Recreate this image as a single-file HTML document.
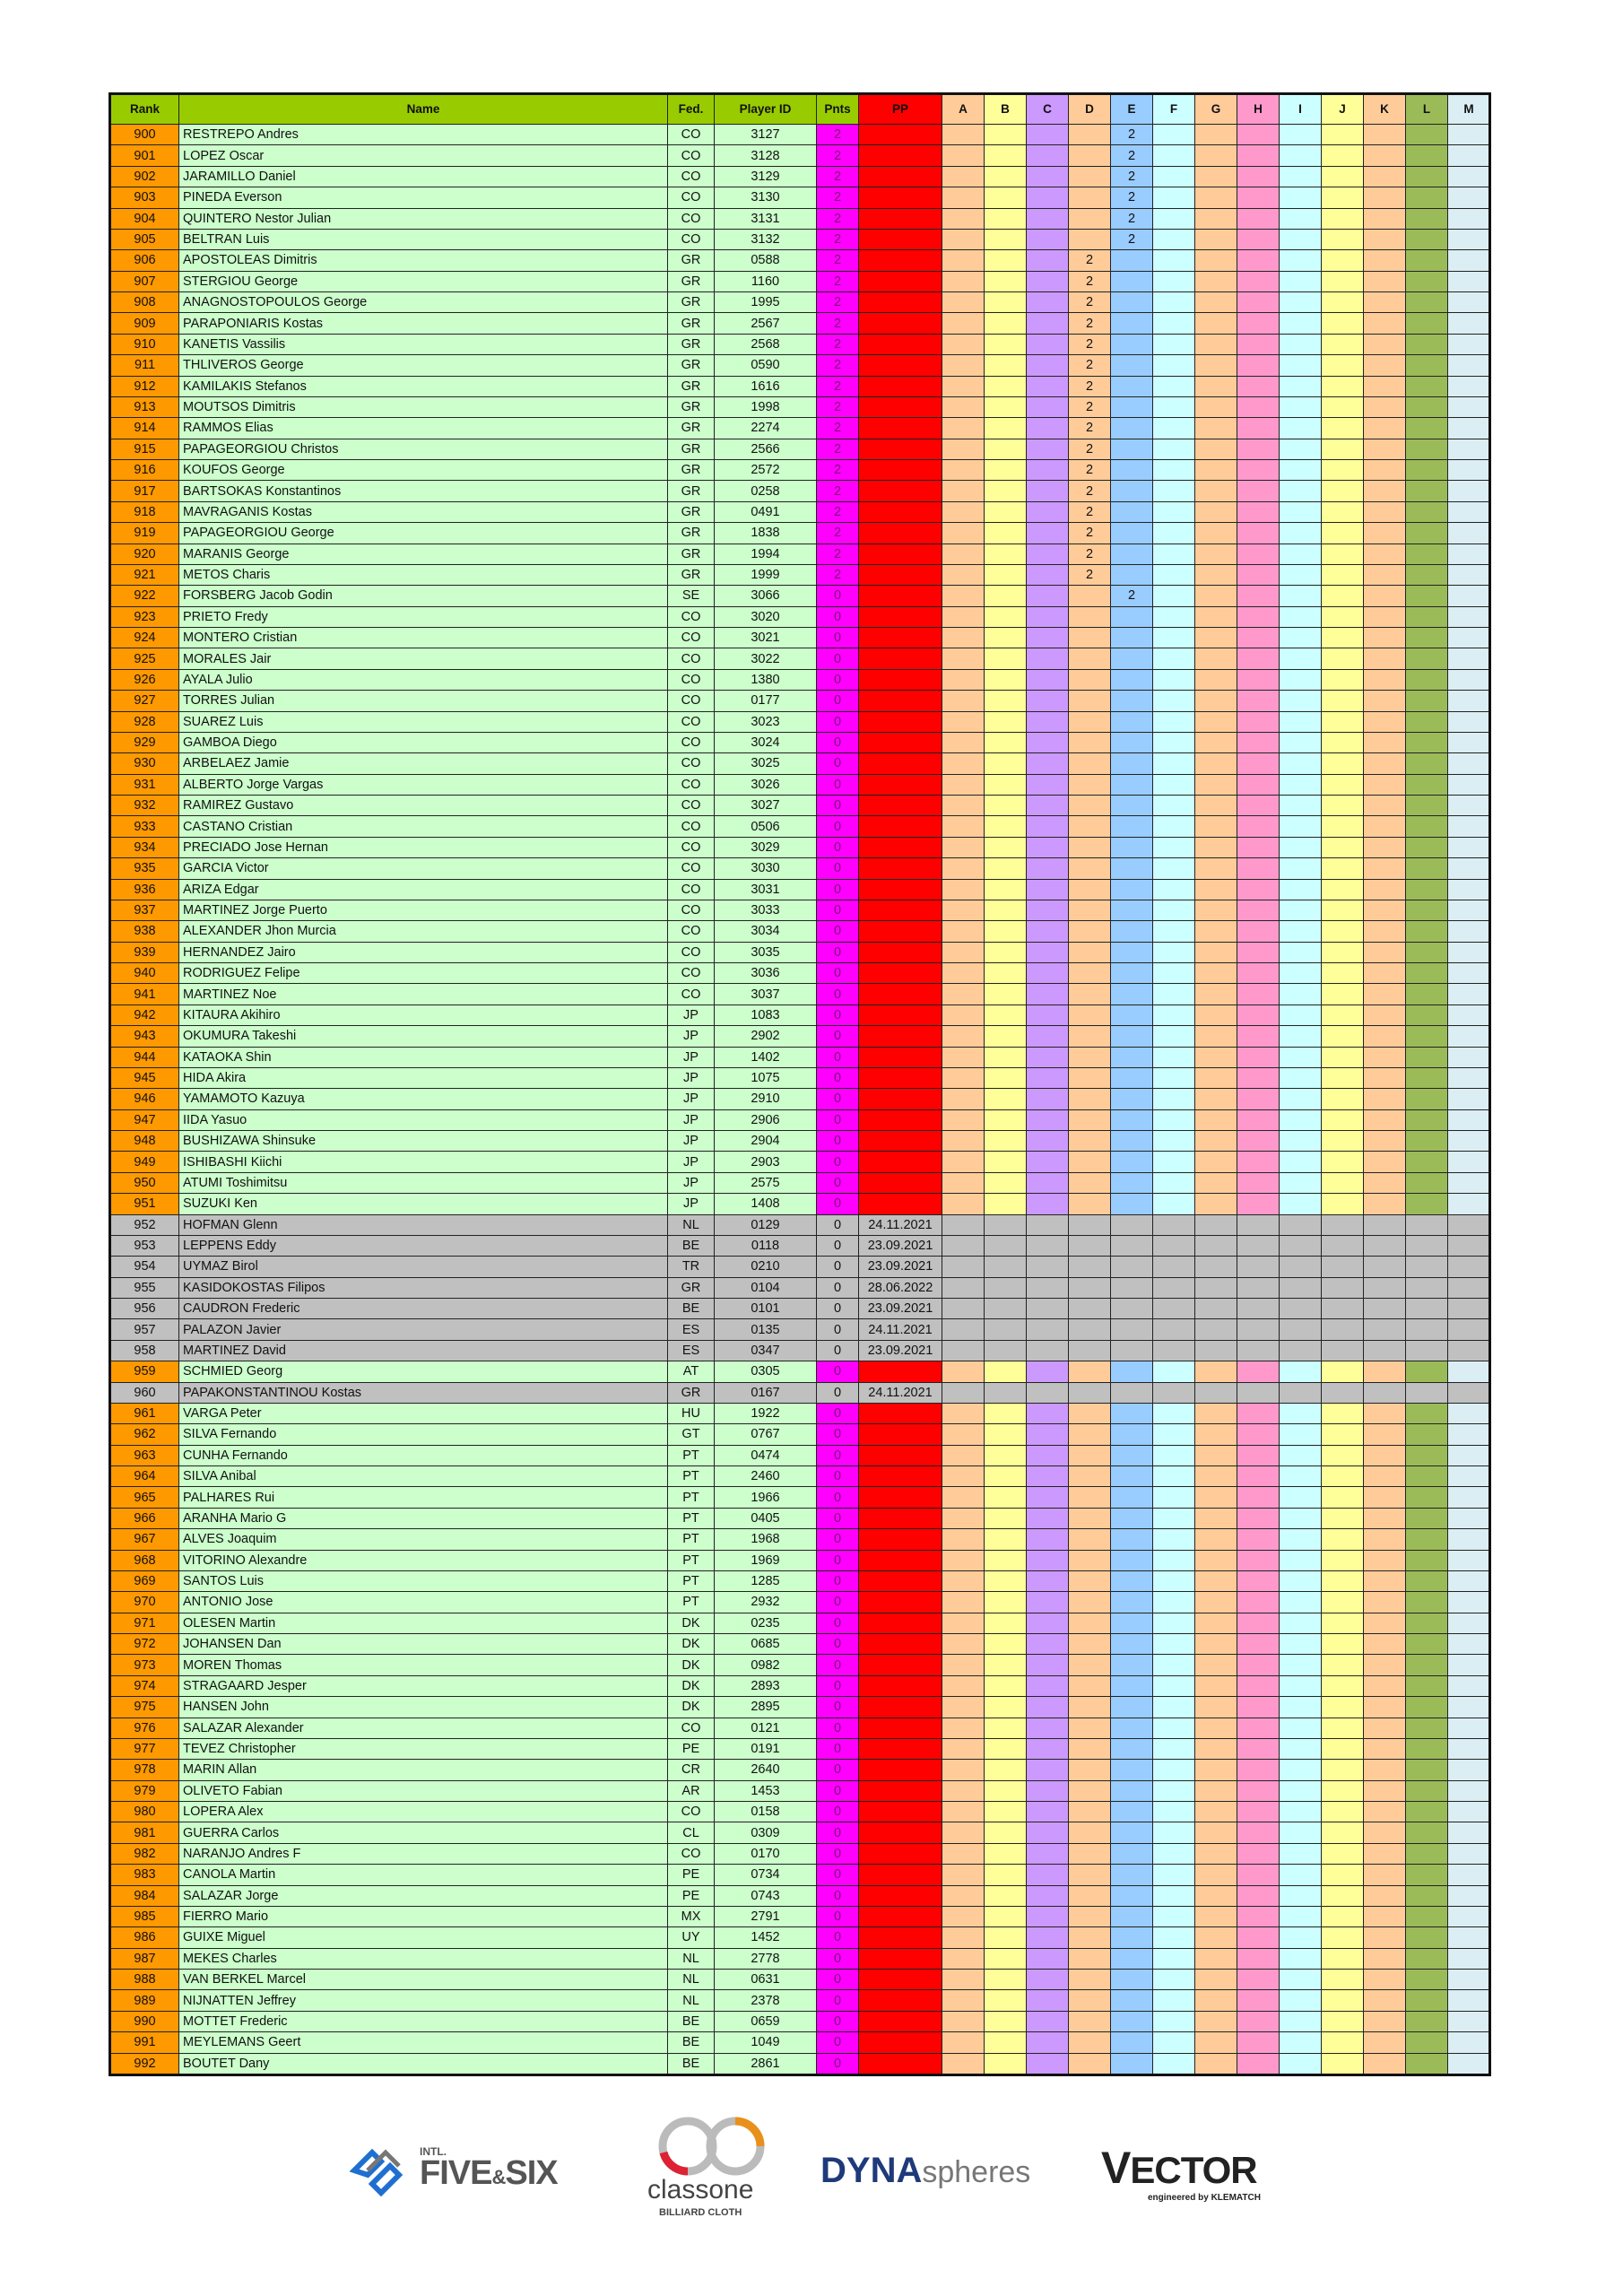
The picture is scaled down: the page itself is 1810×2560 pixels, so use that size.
<!DOCTYPE html>
<html><head><meta charset="utf-8"><style>
body{margin:0;width:1810px;height:2560px;background:#fff;position:relative;font-family:"Liberation Sans",Arial,sans-serif}
table{position:absolute;left:121px;top:103px;width:1539px;border-collapse:collapse;table-layout:fixed;border:3px solid #111}
td,th{border:1.5px solid #222;padding:0;height:22.38px;font-size:14.5px;text-align:center;color:#111;white-space:nowrap;overflow:hidden;line-height:20px}
th{height:32px;font-size:13.5px;font-weight:bold}
th:nth-child(-n+5){background:#99cc00}
td:nth-child(1){background:#ff9900}
td:nth-child(2){background:#ccffcc;text-align:left;padding-left:4px}
td:nth-child(3),td:nth-child(4){background:#ccffcc}
td:nth-child(5){background:#ff00ff;color:#7a0f7a}
td:nth-child(6),th:nth-child(6){background:#ff0000}
td:nth-child(7),th:nth-child(7),td:nth-child(10),th:nth-child(10),td:nth-child(13),th:nth-child(13),td:nth-child(17),th:nth-child(17){background:#ffcc99}
td:nth-child(8),th:nth-child(8),td:nth-child(16),th:nth-child(16){background:#ffff99}
td:nth-child(9),th:nth-child(9){background:#cc99ff}
td:nth-child(11),th:nth-child(11){background:#99ccff}
td:nth-child(12),th:nth-child(12),td:nth-child(15),th:nth-child(15){background:#ccffff}
td:nth-child(14),th:nth-child(14){background:#ff99cc}
td:nth-child(18),th:nth-child(18){background:#9bbb59}
td:nth-child(19),th:nth-child(19){background:#dbeef3}
tr.g td{background:#c0c0c0!important;color:#111!important}
.logo{position:absolute;font-weight:bold}
</style></head><body>
<table>
<colgroup><col style="width:77px"><col style="width:545px"><col style="width:52px"><col style="width:114px"><col style="width:47px"><col style="width:93px"><col span="13" style="width:47px"></colgroup>
<tr><th>Rank</th><th>Name</th><th>Fed.</th><th>Player ID</th><th>Pnts</th><th>PP</th><th>A</th><th>B</th><th>C</th><th>D</th><th>E</th><th>F</th><th>G</th><th>H</th><th>I</th><th>J</th><th>K</th><th>L</th><th>M</th></tr>
<tr><td>900<td>RESTREPO Andres<td>CO<td>3127<td>2<td><td><td><td><td><td>2<td><td><td><td><td><td><td><td><td></tr>
<tr><td>901<td>LOPEZ Oscar<td>CO<td>3128<td>2<td><td><td><td><td><td>2<td><td><td><td><td><td><td><td><td></tr>
<tr><td>902<td>JARAMILLO Daniel<td>CO<td>3129<td>2<td><td><td><td><td><td>2<td><td><td><td><td><td><td><td><td></tr>
<tr><td>903<td>PINEDA Everson<td>CO<td>3130<td>2<td><td><td><td><td><td>2<td><td><td><td><td><td><td><td><td></tr>
<tr><td>904<td>QUINTERO Nestor Julian<td>CO<td>3131<td>2<td><td><td><td><td><td>2<td><td><td><td><td><td><td><td><td></tr>
<tr><td>905<td>BELTRAN Luis<td>CO<td>3132<td>2<td><td><td><td><td><td>2<td><td><td><td><td><td><td><td><td></tr>
<tr><td>906<td>APOSTOLEAS Dimitris<td>GR<td>0588<td>2<td><td><td><td><td>2<td><td><td><td><td><td><td><td><td><td></tr>
<tr><td>907<td>STERGIOU George<td>GR<td>1160<td>2<td><td><td><td><td>2<td><td><td><td><td><td><td><td><td><td></tr>
<tr><td>908<td>ANAGNOSTOPOULOS George<td>GR<td>1995<td>2<td><td><td><td><td>2<td><td><td><td><td><td><td><td><td><td></tr>
<tr><td>909<td>PARAPONIARIS Kostas<td>GR<td>2567<td>2<td><td><td><td><td>2<td><td><td><td><td><td><td><td><td><td></tr>
<tr><td>910<td>KANETIS Vassilis<td>GR<td>2568<td>2<td><td><td><td><td>2<td><td><td><td><td><td><td><td><td><td></tr>
<tr><td>911<td>THLIVEROS George<td>GR<td>0590<td>2<td><td><td><td><td>2<td><td><td><td><td><td><td><td><td><td></tr>
<tr><td>912<td>KAMILAKIS Stefanos<td>GR<td>1616<td>2<td><td><td><td><td>2<td><td><td><td><td><td><td><td><td><td></tr>
<tr><td>913<td>MOUTSOS Dimitris<td>GR<td>1998<td>2<td><td><td><td><td>2<td><td><td><td><td><td><td><td><td><td></tr>
<tr><td>914<td>RAMMOS Elias<td>GR<td>2274<td>2<td><td><td><td><td>2<td><td><td><td><td><td><td><td><td><td></tr>
<tr><td>915<td>PAPAGEORGIOU Christos<td>GR<td>2566<td>2<td><td><td><td><td>2<td><td><td><td><td><td><td><td><td><td></tr>
<tr><td>916<td>KOUFOS George<td>GR<td>2572<td>2<td><td><td><td><td>2<td><td><td><td><td><td><td><td><td><td></tr>
<tr><td>917<td>BARTSOKAS Konstantinos<td>GR<td>0258<td>2<td><td><td><td><td>2<td><td><td><td><td><td><td><td><td><td></tr>
<tr><td>918<td>MAVRAGANIS Kostas<td>GR<td>0491<td>2<td><td><td><td><td>2<td><td><td><td><td><td><td><td><td><td></tr>
<tr><td>919<td>PAPAGEORGIOU George<td>GR<td>1838<td>2<td><td><td><td><td>2<td><td><td><td><td><td><td><td><td><td></tr>
<tr><td>920<td>MARANIS George<td>GR<td>1994<td>2<td><td><td><td><td>2<td><td><td><td><td><td><td><td><td><td></tr>
<tr><td>921<td>METOS Charis<td>GR<td>1999<td>2<td><td><td><td><td>2<td><td><td><td><td><td><td><td><td><td></tr>
<tr><td>922<td>FORSBERG Jacob Godin<td>SE<td>3066<td>0<td><td><td><td><td><td>2<td><td><td><td><td><td><td><td><td></tr>
<tr><td>923<td>PRIETO Fredy<td>CO<td>3020<td>0<td><td><td><td><td><td><td><td><td><td><td><td><td><td><td></tr>
<tr><td>924<td>MONTERO Cristian<td>CO<td>3021<td>0<td><td><td><td><td><td><td><td><td><td><td><td><td><td><td></tr>
<tr><td>925<td>MORALES Jair<td>CO<td>3022<td>0<td><td><td><td><td><td><td><td><td><td><td><td><td><td><td></tr>
<tr><td>926<td>AYALA Julio<td>CO<td>1380<td>0<td><td><td><td><td><td><td><td><td><td><td><td><td><td><td></tr>
<tr><td>927<td>TORRES Julian<td>CO<td>0177<td>0<td><td><td><td><td><td><td><td><td><td><td><td><td><td><td></tr>
<tr><td>928<td>SUAREZ Luis<td>CO<td>3023<td>0<td><td><td><td><td><td><td><td><td><td><td><td><td><td><td></tr>
<tr><td>929<td>GAMBOA Diego<td>CO<td>3024<td>0<td><td><td><td><td><td><td><td><td><td><td><td><td><td><td></tr>
<tr><td>930<td>ARBELAEZ Jamie<td>CO<td>3025<td>0<td><td><td><td><td><td><td><td><td><td><td><td><td><td><td></tr>
<tr><td>931<td>ALBERTO Jorge Vargas<td>CO<td>3026<td>0<td><td><td><td><td><td><td><td><td><td><td><td><td><td><td></tr>
<tr><td>932<td>RAMIREZ Gustavo<td>CO<td>3027<td>0<td><td><td><td><td><td><td><td><td><td><td><td><td><td><td></tr>
<tr><td>933<td>CASTANO Cristian<td>CO<td>0506<td>0<td><td><td><td><td><td><td><td><td><td><td><td><td><td><td></tr>
<tr><td>934<td>PRECIADO Jose Hernan<td>CO<td>3029<td>0<td><td><td><td><td><td><td><td><td><td><td><td><td><td><td></tr>
<tr><td>935<td>GARCIA Victor<td>CO<td>3030<td>0<td><td><td><td><td><td><td><td><td><td><td><td><td><td><td></tr>
<tr><td>936<td>ARIZA Edgar<td>CO<td>3031<td>0<td><td><td><td><td><td><td><td><td><td><td><td><td><td><td></tr>
<tr><td>937<td>MARTINEZ Jorge Puerto<td>CO<td>3033<td>0<td><td><td><td><td><td><td><td><td><td><td><td><td><td><td></tr>
<tr><td>938<td>ALEXANDER Jhon Murcia<td>CO<td>3034<td>0<td><td><td><td><td><td><td><td><td><td><td><td><td><td><td></tr>
<tr><td>939<td>HERNANDEZ Jairo<td>CO<td>3035<td>0<td><td><td><td><td><td><td><td><td><td><td><td><td><td><td></tr>
<tr><td>940<td>RODRIGUEZ Felipe<td>CO<td>3036<td>0<td><td><td><td><td><td><td><td><td><td><td><td><td><td><td></tr>
<tr><td>941<td>MARTINEZ Noe<td>CO<td>3037<td>0<td><td><td><td><td><td><td><td><td><td><td><td><td><td><td></tr>
<tr><td>942<td>KITAURA Akihiro<td>JP<td>1083<td>0<td><td><td><td><td><td><td><td><td><td><td><td><td><td><td></tr>
<tr><td>943<td>OKUMURA Takeshi<td>JP<td>2902<td>0<td><td><td><td><td><td><td><td><td><td><td><td><td><td><td></tr>
<tr><td>944<td>KATAOKA Shin<td>JP<td>1402<td>0<td><td><td><td><td><td><td><td><td><td><td><td><td><td><td></tr>
<tr><td>945<td>HIDA Akira<td>JP<td>1075<td>0<td><td><td><td><td><td><td><td><td><td><td><td><td><td><td></tr>
<tr><td>946<td>YAMAMOTO Kazuya<td>JP<td>2910<td>0<td><td><td><td><td><td><td><td><td><td><td><td><td><td><td></tr>
<tr><td>947<td>IIDA Yasuo<td>JP<td>2906<td>0<td><td><td><td><td><td><td><td><td><td><td><td><td><td><td></tr>
<tr><td>948<td>BUSHIZAWA Shinsuke<td>JP<td>2904<td>0<td><td><td><td><td><td><td><td><td><td><td><td><td><td><td></tr>
<tr><td>949<td>ISHIBASHI Kiichi<td>JP<td>2903<td>0<td><td><td><td><td><td><td><td><td><td><td><td><td><td><td></tr>
<tr><td>950<td>ATUMI Toshimitsu<td>JP<td>2575<td>0<td><td><td><td><td><td><td><td><td><td><td><td><td><td><td></tr>
<tr><td>951<td>SUZUKI Ken<td>JP<td>1408<td>0<td><td><td><td><td><td><td><td><td><td><td><td><td><td><td></tr>
<tr class="g"><td>952<td>HOFMAN Glenn<td>NL<td>0129<td>0<td>24.11.2021<td><td><td><td><td><td><td><td><td><td><td><td><td><td></tr>
<tr class="g"><td>953<td>LEPPENS Eddy<td>BE<td>0118<td>0<td>23.09.2021<td><td><td><td><td><td><td><td><td><td><td><td><td><td></tr>
<tr class="g"><td>954<td>UYMAZ Birol<td>TR<td>0210<td>0<td>23.09.2021<td><td><td><td><td><td><td><td><td><td><td><td><td><td></tr>
<tr class="g"><td>955<td>KASIDOKOSTAS Filipos<td>GR<td>0104<td>0<td>28.06.2022<td><td><td><td><td><td><td><td><td><td><td><td><td><td></tr>
<tr class="g"><td>956<td>CAUDRON Frederic<td>BE<td>0101<td>0<td>23.09.2021<td><td><td><td><td><td><td><td><td><td><td><td><td><td></tr>
<tr class="g"><td>957<td>PALAZON Javier<td>ES<td>0135<td>0<td>24.11.2021<td><td><td><td><td><td><td><td><td><td><td><td><td><td></tr>
<tr class="g"><td>958<td>MARTINEZ David<td>ES<td>0347<td>0<td>23.09.2021<td><td><td><td><td><td><td><td><td><td><td><td><td><td></tr>
<tr><td>959<td>SCHMIED Georg<td>AT<td>0305<td>0<td><td><td><td><td><td><td><td><td><td><td><td><td><td><td></tr>
<tr class="g"><td>960<td>PAPAKONSTANTINOU Kostas<td>GR<td>0167<td>0<td>24.11.2021<td><td><td><td><td><td><td><td><td><td><td><td><td><td></tr>
<tr><td>961<td>VARGA Peter<td>HU<td>1922<td>0<td><td><td><td><td><td><td><td><td><td><td><td><td><td><td></tr>
<tr><td>962<td>SILVA Fernando<td>GT<td>0767<td>0<td><td><td><td><td><td><td><td><td><td><td><td><td><td><td></tr>
<tr><td>963<td>CUNHA Fernando<td>PT<td>0474<td>0<td><td><td><td><td><td><td><td><td><td><td><td><td><td><td></tr>
<tr><td>964<td>SILVA Anibal<td>PT<td>2460<td>0<td><td><td><td><td><td><td><td><td><td><td><td><td><td><td></tr>
<tr><td>965<td>PALHARES Rui<td>PT<td>1966<td>0<td><td><td><td><td><td><td><td><td><td><td><td><td><td><td></tr>
<tr><td>966<td>ARANHA Mario G<td>PT<td>0405<td>0<td><td><td><td><td><td><td><td><td><td><td><td><td><td><td></tr>
<tr><td>967<td>ALVES Joaquim<td>PT<td>1968<td>0<td><td><td><td><td><td><td><td><td><td><td><td><td><td><td></tr>
<tr><td>968<td>VITORINO Alexandre<td>PT<td>1969<td>0<td><td><td><td><td><td><td><td><td><td><td><td><td><td><td></tr>
<tr><td>969<td>SANTOS Luis<td>PT<td>1285<td>0<td><td><td><td><td><td><td><td><td><td><td><td><td><td><td></tr>
<tr><td>970<td>ANTONIO Jose<td>PT<td>2932<td>0<td><td><td><td><td><td><td><td><td><td><td><td><td><td><td></tr>
<tr><td>971<td>OLESEN Martin<td>DK<td>0235<td>0<td><td><td><td><td><td><td><td><td><td><td><td><td><td><td></tr>
<tr><td>972<td>JOHANSEN Dan<td>DK<td>0685<td>0<td><td><td><td><td><td><td><td><td><td><td><td><td><td><td></tr>
<tr><td>973<td>MOREN Thomas<td>DK<td>0982<td>0<td><td><td><td><td><td><td><td><td><td><td><td><td><td><td></tr>
<tr><td>974<td>STRAGAARD Jesper<td>DK<td>2893<td>0<td><td><td><td><td><td><td><td><td><td><td><td><td><td><td></tr>
<tr><td>975<td>HANSEN John<td>DK<td>2895<td>0<td><td><td><td><td><td><td><td><td><td><td><td><td><td><td></tr>
<tr><td>976<td>SALAZAR Alexander<td>CO<td>0121<td>0<td><td><td><td><td><td><td><td><td><td><td><td><td><td><td></tr>
<tr><td>977<td>TEVEZ Christopher<td>PE<td>0191<td>0<td><td><td><td><td><td><td><td><td><td><td><td><td><td><td></tr>
<tr><td>978<td>MARIN Allan<td>CR<td>2640<td>0<td><td><td><td><td><td><td><td><td><td><td><td><td><td><td></tr>
<tr><td>979<td>OLIVETO Fabian<td>AR<td>1453<td>0<td><td><td><td><td><td><td><td><td><td><td><td><td><td><td></tr>
<tr><td>980<td>LOPERA Alex<td>CO<td>0158<td>0<td><td><td><td><td><td><td><td><td><td><td><td><td><td><td></tr>
<tr><td>981<td>GUERRA Carlos<td>CL<td>0309<td>0<td><td><td><td><td><td><td><td><td><td><td><td><td><td><td></tr>
<tr><td>982<td>NARANJO Andres F<td>CO<td>0170<td>0<td><td><td><td><td><td><td><td><td><td><td><td><td><td><td></tr>
<tr><td>983<td>CANOLA Martin<td>PE<td>0734<td>0<td><td><td><td><td><td><td><td><td><td><td><td><td><td><td></tr>
<tr><td>984<td>SALAZAR Jorge<td>PE<td>0743<td>0<td><td><td><td><td><td><td><td><td><td><td><td><td><td><td></tr>
<tr><td>985<td>FIERRO Mario<td>MX<td>2791<td>0<td><td><td><td><td><td><td><td><td><td><td><td><td><td><td></tr>
<tr><td>986<td>GUIXE Miguel<td>UY<td>1452<td>0<td><td><td><td><td><td><td><td><td><td><td><td><td><td><td></tr>
<tr><td>987<td>MEKES Charles<td>NL<td>2778<td>0<td><td><td><td><td><td><td><td><td><td><td><td><td><td><td></tr>
<tr><td>988<td>VAN BERKEL Marcel<td>NL<td>0631<td>0<td><td><td><td><td><td><td><td><td><td><td><td><td><td><td></tr>
<tr><td>989<td>NIJNATTEN Jeffrey<td>NL<td>2378<td>0<td><td><td><td><td><td><td><td><td><td><td><td><td><td><td></tr>
<tr><td>990<td>MOTTET Frederic<td>BE<td>0659<td>0<td><td><td><td><td><td><td><td><td><td><td><td><td><td><td></tr>
<tr><td>991<td>MEYLEMANS Geert<td>BE<td>1049<td>0<td><td><td><td><td><td><td><td><td><td><td><td><td><td><td></tr>
<tr><td>992<td>BOUTET Dany<td>BE<td>2861<td>0<td><td><td><td><td><td><td><td><td><td><td><td><td><td><td></tr>
</table>

<svg style="position:absolute;left:390px;top:2390px" width="70" height="60"><path d="M5 30 L25 10 L35 20 L20 35 Z M25 45 L45 25 L55 35 L35 55 Z" fill="none" stroke="#1e6fd0" stroke-width="6"/><path d="M20 30 L40 10 L55 25" fill="none" stroke="#777" stroke-width="5"/></svg>
<div class="logo" style="left:468px;top:2392px;font-size:12px;color:#555">INTL.</div>
<div class="logo" style="left:468px;top:2402px;font-size:38px;color:#555;letter-spacing:-1px">FIVE<span style="font-size:22px">&amp;</span>SIX</div>
<svg style="position:absolute;left:720px;top:2355px" width="150" height="75"><circle cx="47" cy="38" r="28" fill="none" stroke="#bbb" stroke-width="9"/><circle cx="100" cy="38" r="28" fill="none" stroke="#bbb" stroke-width="9"/><path d="M100 10 A28 28 0 0 1 128 38" fill="none" stroke="#e8901a" stroke-width="9"/><path d="M20 45 A28 28 0 0 0 47 66" fill="none" stroke="#d23" stroke-width="9"/></svg>
<div class="logo" style="left:722px;top:2425px;font-size:30px;color:#444;font-weight:normal">classone</div>
<div class="logo" style="left:735px;top:2461px;font-size:11px;color:#444">BILLIARD CLOTH</div>
<div class="logo" style="left:915px;top:2398px;font-size:40px;color:#1f3a7a">DYNA<span style="color:#777;font-weight:normal;font-size:34px">spheres</span></div>
<div class="logo" style="left:1228px;top:2388px;font-size:50px;color:#222;letter-spacing:-1px">V<span style="font-size:42px">ECTOR</span></div>
<div class="logo" style="left:1280px;top:2445px;font-size:10px;color:#222">engineered by KLEMATCH</div>
</body></html>
